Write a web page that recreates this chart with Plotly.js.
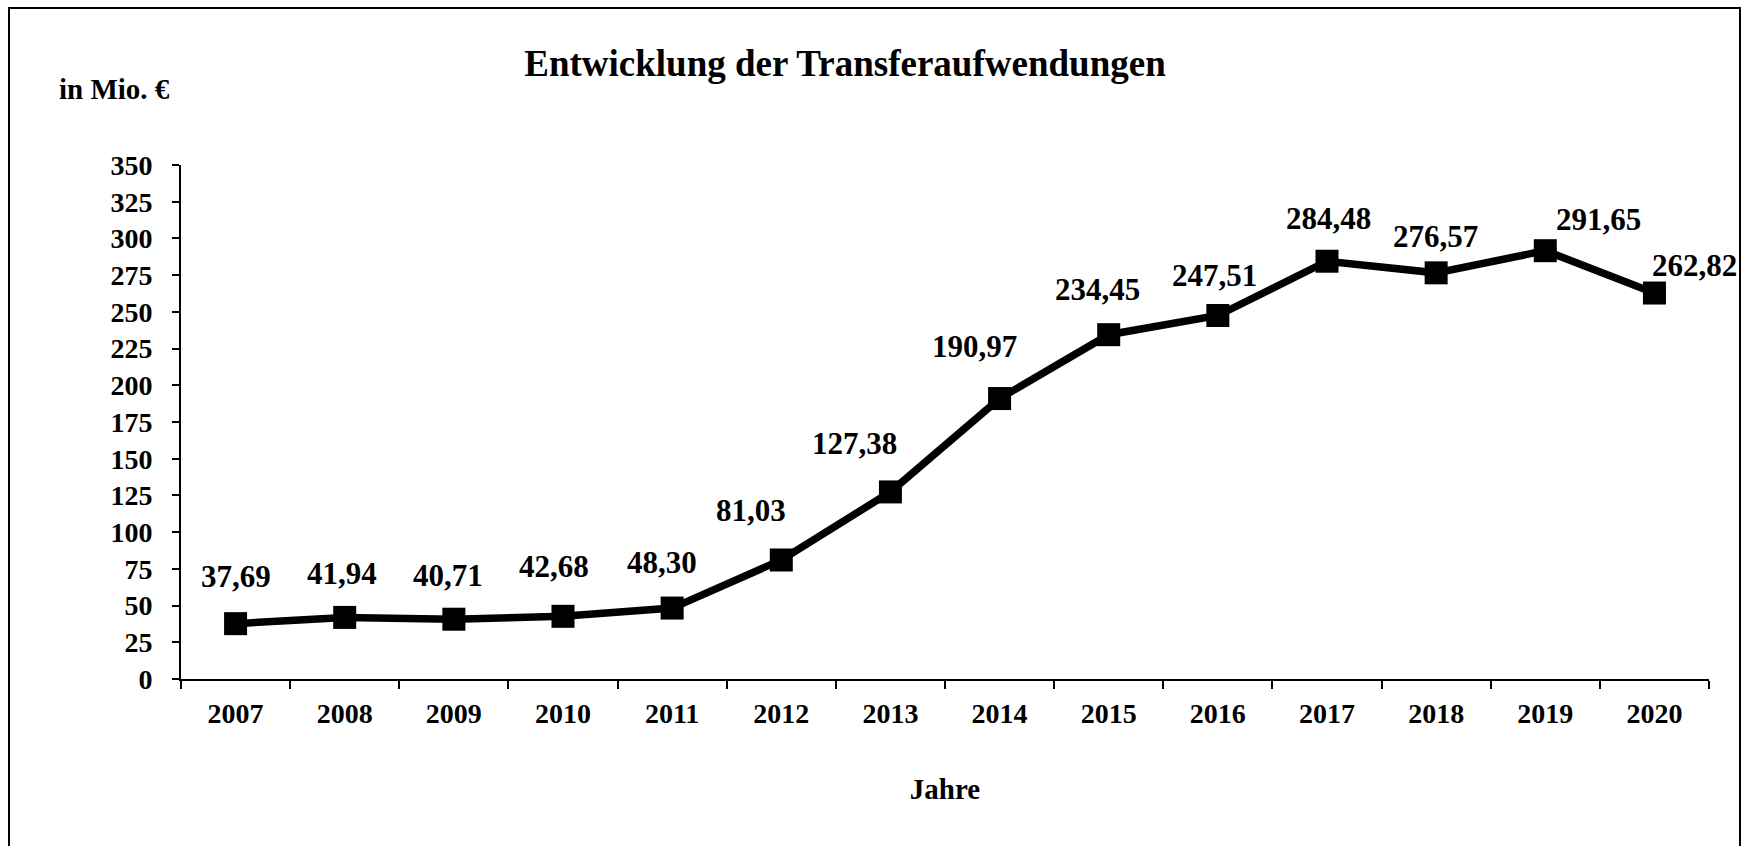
<!DOCTYPE html>
<html>
<head>
<meta charset="utf-8">
<script src="https://cdn.plot.ly/plotly-3.0.1.min.js"></script>
<style>
  body { margin: 0; background: #fff; }
  #chart { width: 1744px; height: 846px; }
</style>
</head>
<body>
<div id="chart"></div>
<script>
// Transferaufwendungen in Mio. €
const years = ["2007", "2008", "2009", "2010", "2011", "2012", "2013",
               "2014", "2015", "2016", "2017", "2018", "2019", "2020"];
const values = [37.69, 41.94, 40.71, 42.68, 48.30, 81.03, 127.38,
                190.97, 234.45, 247.51, 284.48, 276.57, 291.65, 262.82];
const yTicks = [0, 25, 50, 75, 100, 125, 150, 175, 200, 225, 250, 275, 300, 325, 350];

// where each value label sits relative to its point (px)
const labelDx = [0, -3, -6, -9, -10, -30, -36, -25, -11, -3, 1, -1, 53, 40];
const labelDy = [47, 44, 44, 50, 46, 50, 48, 52, 45, 40, 43, 36, 31, 28];

const serif = "Liberation Serif, Times New Roman, serif";
const W = 1744, H = 846;
const m = {l: 181, r: 35, t: 165, b: 167};
const pw = W - m.l - m.r, ph = H - m.t - m.b;

const labels = values.map(v => v.toFixed(2).replace(".", ","));

const trace = {
  x: years,
  y: values,
  type: "scatter",
  mode: "lines+markers",
  line: {color: "#000", width: 7.5},
  marker: {symbol: "square", size: 23, color: "#000"},
  hoverinfo: "x+y"
};

// category axis: annotations take the category index, not the year string
const annotations = years.map((yr, i) => ({
  x: i, y: values[i], xref: "x", yref: "y",
  text: labels[i], showarrow: false,
  xanchor: "center", yanchor: "middle",
  xshift: labelDx[i], yshift: labelDy[i],
  font: {family: serif, size: 31, color: "#000", weight: "bold"}
}));

annotations.push({
  xref: "paper", yref: "paper",
  x: (57 - m.l) / pw, y: (H - m.b - 89) / ph,
  xanchor: "left", yanchor: "middle",
  text: "in Mio. €", showarrow: false,
  font: {family: serif, size: 29, color: "#000", weight: "bold"}
});

const layout = {
  width: W, height: H,
  margin: m,
  paper_bgcolor: "#fff",
  plot_bgcolor: "#fff",
  showlegend: false,
  title: {
    text: "Entwicklung der Transferaufwendungen",
    xref: "container", yref: "container",
    x: 845 / W, y: 1 - 63 / H,
    xanchor: "center", yanchor: "middle",
    font: {family: serif, size: 37, color: "#000", weight: "bold"}
  },
  xaxis: {
    type: "category",
    range: [-0.5, years.length - 0.5],
    showgrid: false, zeroline: false,
    showline: true, linecolor: "#000", linewidth: 2,
    ticks: "outside", tickson: "boundaries", ticklen: 8, tickwidth: 2, tickcolor: "#000",
    ticklabelstandoff: 8,
    tickfont: {family: serif, size: 28, color: "#000", weight: "bold"},
    title: {
      text: "Jahre", standoff: 51,
      font: {family: serif, size: 29, color: "#000", weight: "bold"}
    },
    fixedrange: true
  },
  yaxis: {
    range: [0, 350],
    tickvals: yTicks,
    showgrid: false, zeroline: false,
    showline: true, linecolor: "#000", linewidth: 2,
    ticks: "outside", ticklen: 7, tickwidth: 2, tickcolor: "#000",
    ticklabelstandoff: 14,
    tickfont: {family: serif, size: 28, color: "#000", weight: "bold"},
    fixedrange: true
  },
  annotations: annotations,
  shapes: [{
    type: "rect", xref: "paper", yref: "paper",
    x0: (9 - m.l) / pw, x1: (1740 - m.l) / pw,
    y0: (H - m.b - 860) / ph, y1: (H - m.b - 8) / ph,
    line: {color: "#000", width: 2}, fillcolor: "rgba(0,0,0,0)"
  }]
};

Plotly.newPlot("chart", [trace], layout, {displayModeBar: false, staticPlot: true});
</script>
</body>
</html>
